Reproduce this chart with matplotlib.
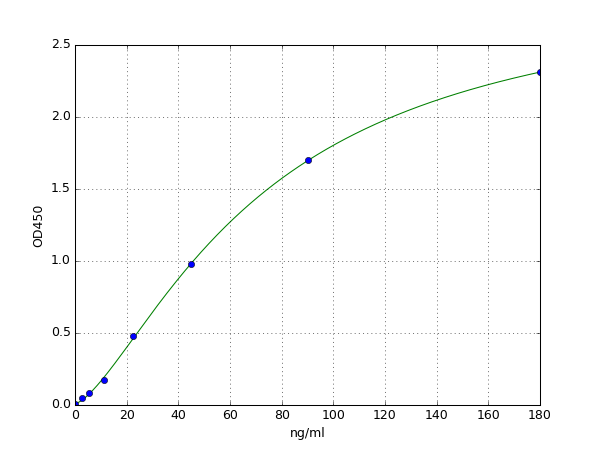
import matplotlib
matplotlib.use('Agg')
import matplotlib.pyplot as plt
import numpy as np

conc = [0, 2.8, 5.6, 11.25, 22.5, 45, 90, 180]
od = [0.005, 0.046, 0.081, 0.174, 0.478, 0.976, 1.698, 2.312]


# 4 parameter logistic fit: linear in a, d for fixed b, c -> grid over b, c
def fit_4pl(x, y):
    x = np.asarray(x, float)
    y = np.asarray(y, float)
    best = None
    for b in np.linspace(0.5, 3.0, 251):
        for c in np.geomspace(5, 2000, 400):
            g = 1.0 / (1.0 + (x / c) ** b)
            A = np.column_stack([g, 1 - g])
            coef, *_ = np.linalg.lstsq(A, y, rcond=None)
            err = np.sum((A @ coef - y) ** 2)
            if best is None or err < best[0]:
                best = (err, coef[0], b, c, coef[1])
    return best[1:]


a, b, c, d = fit_4pl(conc, od)
xs = np.linspace(0, 180, 400)
ys = d + (a - d) / (1 + (xs / c) ** b)

plt.style.use('classic')
fig = plt.figure(figsize=(8, 6), dpi=75, facecolor='white')
ax = fig.add_subplot(111)
ax.plot(xs, ys, color='g')
ax.plot(conc, od, 'o', color='b', markersize=6)
ax.set_xlim(0, 180)
ax.set_ylim(0, 2.5)
ax.set_xticks(range(0, 181, 20))
ax.set_yticks(np.arange(0, 2.51, 0.5))
ax.grid(True)
ax.set_xlabel('ng/ml')
ax.set_ylabel('OD450')

fig.savefig('out.png', dpi=75, facecolor='white')
